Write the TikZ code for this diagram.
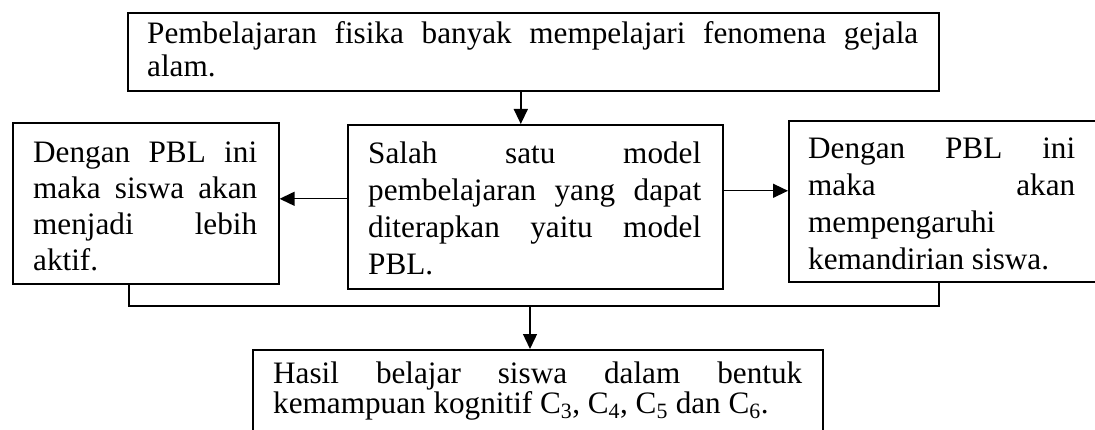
\documentclass[tikz,border=0pt]{standalone}
\usepackage{fontspec}
\setmainfont{Liberation Serif}
\usetikzlibrary{arrows.meta,calc}
% a block of text of given width whose baseline is its first line
\newcommand\para[2]{\vtop{\hsize=#1\parindent=0pt\parskip=0pt\relax#2}}
% one justified line of a paragraph, set on its own
\newcommand\jl[1]{\par\noindent\hbox to\hsize{#1}\par}
\hbadness=10000
\begin{document}
\begin{tikzpicture}[x=1pt,y=-1pt,
  box/.style={draw, line width=1.6pt, rectangle, inner sep=0pt, anchor=north west},
  txt/.style={inner sep=0pt, anchor=base west},
  link/.style={line width=1.4pt},
  arr/.style={link, -{Triangle[length=15pt,width=14pt]}}]
\useasboundingbox (0,0) rectangle (1095,430);
\fill[white] (0,0) rectangle (1095,430);

% boxes
\node[box, minimum width=811pt, minimum height=78pt]  (top)   at (127,12)  {};
\node[box, minimum width=266pt, minimum height=161pt] (left)  at (12,122)  {};
\node[box, minimum width=375pt, minimum height=164pt] (mid)   at (347,124) {};
\node[box, minimum width=309pt, minimum height=161pt] (right) at (788,120) {};
\node[box, minimum width=570pt, minimum height=120pt] (bot)   at (252,349) {};

% texts
\node[txt, font=\fontsize{31.2pt}{33pt}\selectfont] (ttop)
  at ($(top.north west)+(20,32)$)
  {\para{771pt}{\jl{Pembelajaran fisika banyak mempelajari fenomena gejala}\noindent alam.}};
\node[txt, font=\fontsize{31.2pt}{36pt}\selectfont] (tleft)
  at ($(left.north west)+(21,41)$)
  {\para{224pt}{\jl{Dengan PBL ini}\jl{maka siswa akan}\jl{menjadi lebih}\noindent aktif.}};
\node[txt, font=\fontsize{31.2pt}{37pt}\selectfont] (tmid)
  at ($(mid.north west)+(21,40)$)
  {\para{333pt}{\jl{Salah satu model}\jl{pembelajaran yang dapat}\jl{diterapkan yaitu model}\noindent PBL.}};
\node[txt, font=\fontsize{31.2pt}{37pt}\selectfont] (tright)
  at ($(right.north west)+(20,39)$)
  {\para{267pt}{\jl{Dengan PBL ini}\jl{maka akan}\jl{mempengaruhi\hfil}\noindent kemandirian siswa.}};
\node[txt, font=\fontsize{31.2pt}{30pt}\selectfont] (tbot)
  at ($(bot.north west)+(21,34)$)
  {\para{529pt}{\jl{Hasil belajar siswa dalam bentuk}\noindent kemampuan kognitif C\textsubscript{3}, C\textsubscript{4}, C\textsubscript{5} dan C\textsubscript{6}.}};

% connectors
\draw[arr] ([xshift=-12.5pt]top.south) -- ([xshift=-12.5pt]top.south |- mid.north);
\draw[arr] ([yshift=8pt]mid.west) -- ([yshift=8pt]mid.west -| left.east);
\draw[arr] ([yshift=16pt]mid.east) -- ([yshift=16pt]mid.east -| right.west);
\coordinate (join) at (530,306);
\draw[link] ([xshift=-17pt]left.south) |- (join) -| ([xshift=-4.5pt]right.south);
\draw[arr] (join) -- (join |- bot.north);
\end{tikzpicture}
\end{document}
